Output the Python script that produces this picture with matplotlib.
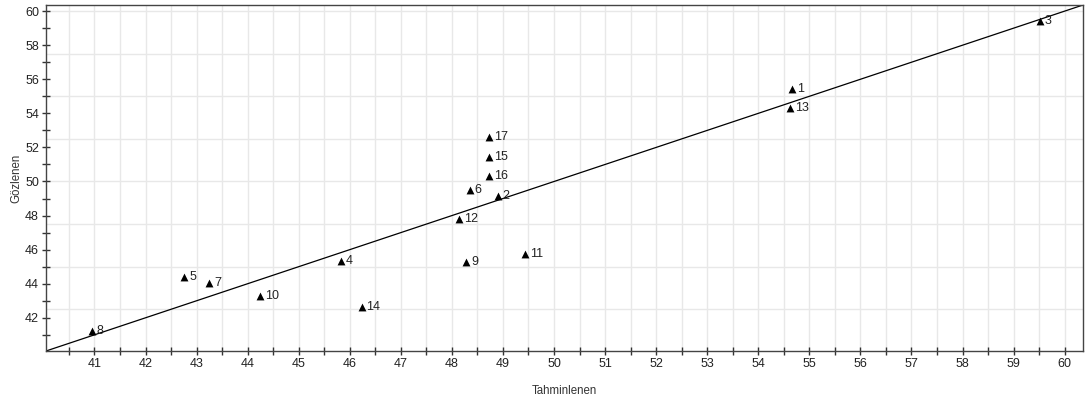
import numpy as np
import matplotlib
import matplotlib.pyplot as plt
from matplotlib.ticker import MultipleLocator

matplotlib.rcParams['font.family'] = ['Liberation Sans', 'DejaVu Sans']
matplotlib.rcParams['font.size'] = 9

# 観測番号, 予測値 (Tahminlenen), 観測値 (Gözlenen)
labels = ['1', '2', '3', '4', '5', '6', '7', '8', '9', '10', '11', '12', '13', '14', '15', '16', '17']
predicted = [54.66, 48.90, 59.51, 45.83, 42.76, 48.35, 43.25, 40.95, 48.28, 44.25,
             49.43, 48.14, 54.63, 46.23, 48.73, 48.73, 48.73]
observed = [55.45, 49.15, 59.44, 45.34, 44.37, 49.50, 44.03, 41.20, 45.30, 43.25,
            45.75, 47.79, 54.30, 42.63, 51.43, 50.33, 52.60]

lo, hi = 40.05, 60.36

fig = plt.figure(figsize=(10.89, 4.03), dpi=100)
ax = fig.add_axes([0.0422, 0.129, 0.9523, 0.8586])

ax.plot([lo, hi], [lo, hi], color='black', lw=0.9, zorder=2)
ax.scatter(predicted, observed, marker='^', s=32, color='black', zorder=3, linewidths=0)
for lab, xv, yv in zip(labels, predicted, observed):
    ax.annotate(lab, (xv, yv), xytext=(3.5, 0), textcoords='offset points',
                va='center', ha='left', fontsize=9, color='#222222')

ax.set_xlim(lo, hi)
ax.set_ylim(lo, hi)
ax.xaxis.set_major_locator(MultipleLocator(1))
ax.xaxis.set_minor_locator(MultipleLocator(0.5))
ax.yaxis.set_major_locator(MultipleLocator(2))
ax.yaxis.set_minor_locator(MultipleLocator(1))

# グリッド: x は 0.5 毎, y は 2.5 毎
for gx in np.arange(40.5, hi, 0.5):
    ax.axvline(gx, color='#e8e8e8', lw=1, zorder=0)
for gy in np.arange(42.5, hi + 0.01, 2.5):
    ax.axhline(gy, color='#e8e8e8', lw=1, zorder=0)

ax.tick_params(which='both', direction='inout', length=6, width=1, color='#333333',
               labelcolor='#222222', labelsize=9, pad=2)
for s in ax.spines.values():
    s.set_color('#444444')
    s.set_linewidth(1)

ax.set_xlabel('Tahminlenen', fontsize=8.3, labelpad=11, color='#333333')
ax.set_ylabel('Gözlenen', fontsize=8.3, labelpad=2, color='#333333')

fig.savefig('out.png', dpi=100)
